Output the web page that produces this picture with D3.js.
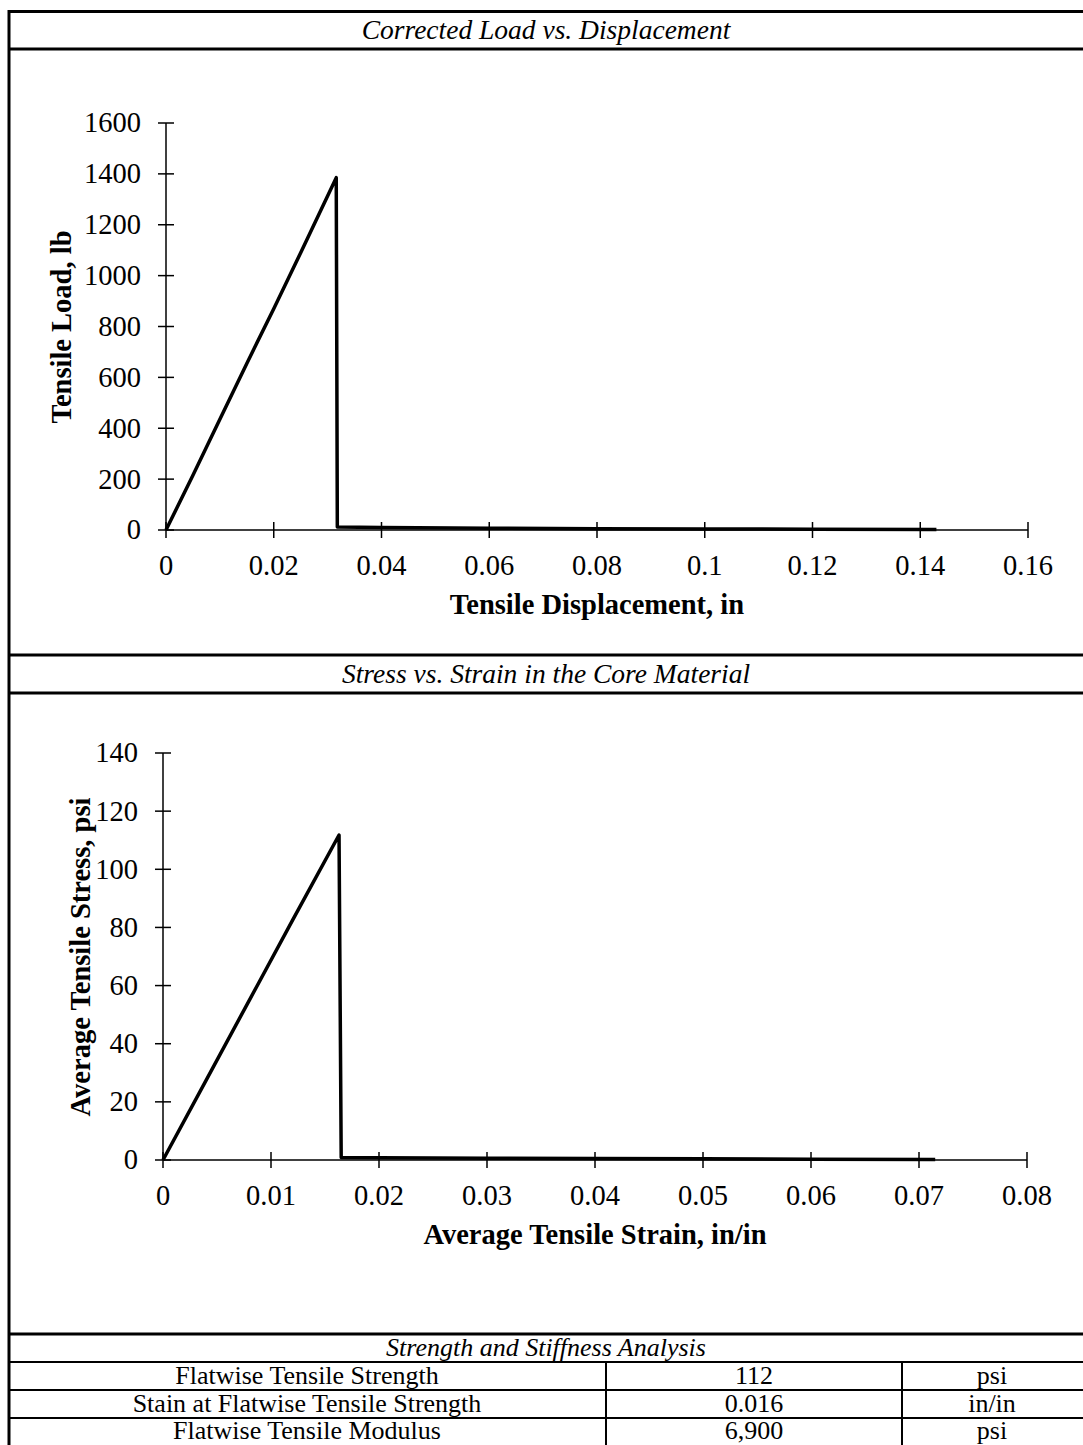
<!DOCTYPE html>
<html><head><meta charset="utf-8">
<script src="https://cdn.jsdelivr.net/npm/d3@7"></script>
<style>
html,body{margin:0;padding:0;background:#fff;}
svg{display:block;}
text{font-family:"Liberation Serif","Times New Roman",serif;fill:#000;}
</style></head>
<body>
<script>
// ---- data ----
const chart1Title = "Corrected Load vs. Displacement";
const chart1XLabel = "Tensile Displacement, in";
const chart1YLabel = "Tensile Load, lb";
const chart1XTicks = [0, 0.02, 0.04, 0.06, 0.08, 0.1, 0.12, 0.14, 0.16];
const chart1YTicks = [0, 200, 400, 600, 800, 1000, 1200, 1400, 1600];
const displacement = [0, 0.005, 0.01, 0.015, 0.02, 0.025, 0.0316, 0.0318, 0.04, 0.06, 0.08, 0.1, 0.12, 0.143];
const load =         [0, 215,   435,  655,   870,  1090,  1385,   12,     10,   7,    5,    4,   3,    2];

const chart2Title = "Stress vs. Strain in the Core Material";
const chart2XLabel = "Average Tensile Strain, in/in";
const chart2YLabel = "Average Tensile Stress, psi";
const chart2XTicks = [0, 0.01, 0.02, 0.03, 0.04, 0.05, 0.06, 0.07, 0.08];
const chart2YTicks = [0, 20, 40, 60, 80, 100, 120, 140];
const strain = [0, 0.004, 0.008, 0.012, 0.0163, 0.0165, 0.02, 0.03, 0.04, 0.05, 0.06, 0.0715];
const stress = [0, 27.5,  55,    82.5,  111.8,  0.9,    0.8,  0.6,  0.5,  0.4,  0.3,  0.2];

const tableTitle = "Strength and Stiffness Analysis";
const tableProps = ["Flatwise Tensile Strength", "Stain at Flatwise Tensile Strength", "Flatwise Tensile Modulus"];
const tableValues = ["112", "0.016", "6,900"];
const tableUnits = ["psi", "in/in", "psi"];

// ---- drawing ----
const W = 1083, H = 1445;
const svg = d3.select("body").append("svg").attr("width", W).attr("height", H);
const FS = 28.5, FT = 27.5, FB = 26;

function drawChart(cfg) {
  const x = d3.scaleLinear().domain(cfg.xDomain).range(cfg.xRange);
  const y = d3.scaleLinear().domain(cfg.yDomain).range(cfg.yRange);
  const g = svg.append("g");
  g.append("line").attr("x1", x(cfg.xDomain[0])).attr("x2", x(cfg.xDomain[1]))
    .attr("y1", y(0)).attr("y2", y(0)).attr("stroke", "#000").attr("stroke-width", 1.5);
  g.append("line").attr("x1", x(0)).attr("x2", x(0))
    .attr("y1", y(cfg.yDomain[0])).attr("y2", y(cfg.yDomain[1])).attr("stroke", "#000").attr("stroke-width", 1.5);
  cfg.yTicks.forEach(v => {
    g.append("line").attr("x1", x(0) - 8).attr("x2", x(0) + 8).attr("y1", y(v)).attr("y2", y(v))
      .attr("stroke", "#000").attr("stroke-width", 1.5);
    g.append("text").attr("x", x(0) - 25).attr("y", y(v)).attr("dy", "0.33em")
      .attr("text-anchor", "end").attr("font-size", FS).text(String(v));
  });
  cfg.xTicks.forEach(v => {
    g.append("line").attr("x1", x(v)).attr("x2", x(v)).attr("y1", y(0) - 8).attr("y2", y(0) + 8)
      .attr("stroke", "#000").attr("stroke-width", 1.5);
    g.append("text").attr("x", x(v)).attr("y", y(0) + 45)
      .attr("text-anchor", "middle").attr("font-size", FS).text(String(v));
  });
  g.append("text").attr("x", (x(cfg.xDomain[0]) + x(cfg.xDomain[1])) / 2).attr("y", y(0) + cfg.xTitleOff)
    .attr("text-anchor", "middle").attr("font-size", FS).attr("font-weight", "bold").text(cfg.xLabel);
  g.append("text").attr("transform", `translate(${cfg.yTitleX},${cfg.yTitleY}) rotate(-90)`)
    .attr("text-anchor", "middle").attr("font-size", FS).attr("font-weight", "bold").text(cfg.yLabel);
  const pts = cfg.xs.map((d, i) => [d, cfg.ys[i]]);
  g.append("path").datum(pts)
    .attr("d", d3.line().x(d => x(d[0])).y(d => y(d[1])))
    .attr("fill", "none").attr("stroke", "#000").attr("stroke-width", 3.5).attr("stroke-linejoin", "round");
}

drawChart({
  xDomain: [0, 0.16], xRange: [166, 1028], yDomain: [0, 1600], yRange: [530, 123],
  xTicks: chart1XTicks, yTicks: chart1YTicks, xLabel: chart1XLabel, yLabel: chart1YLabel,
  xTitleOff: 84, yTitleX: 71, yTitleY: 327, xs: displacement, ys: load
});
drawChart({
  xDomain: [0, 0.08], xRange: [163, 1027], yDomain: [0, 140], yRange: [1160, 753],
  xTicks: chart2XTicks, yTicks: chart2YTicks, xLabel: chart2XLabel, yLabel: chart2YLabel,
  xTitleOff: 84, yTitleX: 90, yTitleY: 957, xs: strain, ys: stress
});

// frame and titles
const L = 9, R = 1090;
function hline(yv, w) {
  svg.append("line").attr("x1", L).attr("x2", R).attr("y1", yv).attr("y2", yv)
    .attr("stroke", "#000").attr("stroke-width", w);
}
svg.append("line").attr("x1", L).attr("x2", L).attr("y1", 10).attr("y2", H + 5).attr("stroke", "#000").attr("stroke-width", 3);
[11.5, 49, 655, 693, 1334].forEach(v => hline(v, 3));
[1362, 1390, 1418].forEach(v => hline(v, 2));
[606, 902].forEach(v => svg.append("line").attr("x1", v).attr("x2", v).attr("y1", 1362).attr("y2", H + 5)
  .attr("stroke", "#000").attr("stroke-width", 2));

svg.append("text").attr("x", 546).attr("y", 30).attr("dy", "0.33em").attr("text-anchor", "middle")
  .attr("font-size", FT).attr("font-style", "italic").text(chart1Title);
svg.append("text").attr("x", 546).attr("y", 674).attr("dy", "0.33em").attr("text-anchor", "middle")
  .attr("font-size", FT).attr("font-style", "italic").text(chart2Title);
svg.append("text").attr("x", 546).attr("y", 1347).attr("dy", "0.33em").attr("text-anchor", "middle")
  .attr("font-size", FB).attr("font-style", "italic").text(tableTitle);

const rowY = [1375, 1403, 1430];
tableProps.forEach((p, i) => {
  svg.append("text").attr("x", 307).attr("y", rowY[i]).attr("dy", "0.33em").attr("text-anchor", "middle")
    .attr("font-size", FB).text(p);
  svg.append("text").attr("x", 754).attr("y", rowY[i]).attr("dy", "0.33em").attr("text-anchor", "middle")
    .attr("font-size", FB).text(tableValues[i]);
  svg.append("text").attr("x", 992).attr("y", rowY[i]).attr("dy", "0.33em").attr("text-anchor", "middle")
    .attr("font-size", FB).text(tableUnits[i]);
});
</script>
</body></html>
